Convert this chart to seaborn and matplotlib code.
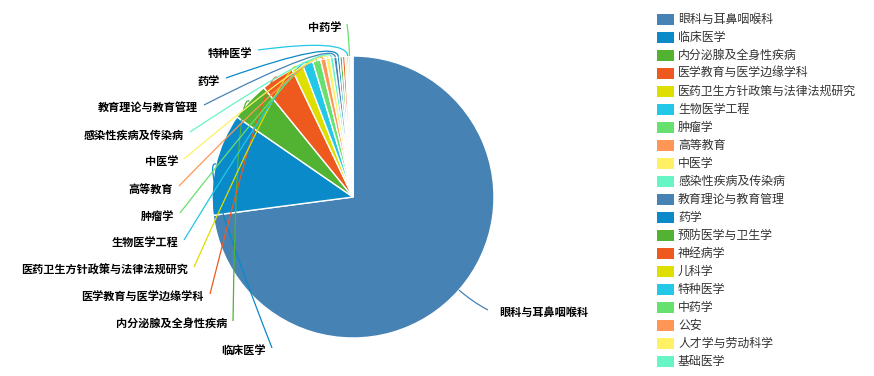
import numpy as np
import matplotlib
matplotlib.use("Agg")
import matplotlib.pyplot as plt
from matplotlib.path import Path
from matplotlib.patches import PathPatch, Rectangle
import seaborn as sns

# ---- data -------------------------------------------------------------
categories = [
    "眼科与耳鼻咽喉科", "临床医学", "内分泌腺及全身性疾病", "医学教育与医学边缘学科",
    "医药卫生方针政策与法律法规研究", "生物医学工程", "肿瘤学", "高等教育", "中医学",
    "感染性疾病及传染病", "教育理论与教育管理", "药学", "预防医学与卫生学", "神经病学",
    "儿科学", "特种医学", "中药学", "公安", "人才学与劳动科学", "基础医学",
]
values = [730, 117, 45, 38, 13, 12, 9, 6, 5, 4, 4, 3, 3, 3, 2, 2, 2, 1, 1, 1]

base_colors = ["#4682b4", "#0a8ac8", "#52b232", "#ee5a1e", "#dede00",
               "#22c8e5", "#66e06e", "#ff9655", "#fff064", "#66f5c5"]

# label anchor (pixel coords, y down): x of text edge, y of text centre, alignment
label_layout = {
    "眼科与耳鼻咽喉科": (499, 312, "left"),
    "临床医学": (266, 351, "right"),
    "内分泌腺及全身性疾病": (227, 324, "right"),
    "医学教育与医学边缘学科": (204, 297, "right"),
    "医药卫生方针政策与法律法规研究": (188, 270, "right"),
    "生物医学工程": (178, 243, "right"),
    "肿瘤学": (174, 216, "right"),
    "高等教育": (173, 189, "right"),
    "中医学": (178, 162, "right"),
    "感染性疾病及传染病": (184, 135, "right"),
    "教育理论与教育管理": (198, 108, "right"),
    "药学": (220, 81, "right"),
    "特种医学": (252, 53, "right"),
    "中药学": (341, 27, "right"),
}

# ---- figure -----------------------------------------------------------
sns.set_theme(style="white")
plt.rcParams["font.family"] = ["Noto Sans CJK SC", "DejaVu Sans"]

W, H = 874, 376
fig = plt.figure(figsize=(W / 100, H / 100), dpi=100)
ax = fig.add_axes([0, 0, 1, 1])

def py(y):
    return H - y

cx, cy, R = 353, 197, 141
colors = sns.color_palette(base_colors, n_colors=len(values))

ax.pie(values, colors=colors, startangle=90, counterclock=False,
       center=(cx, py(cy)), radius=R,
       wedgeprops=dict(edgecolor="white", linewidth=1.0))

ax.set_xlim(0, W)
ax.set_ylim(0, H)
ax.set_aspect("auto")
ax.axis("off")

# ---- labels with smooth leader lines -----------------------------------
total = float(sum(values))
cum = 0.0
for name, v, col in zip(categories, values, colors):
    mid = (cum + v / 2) / total * 2 * np.pi   # clockwise from 12 o'clock
    cum += v
    if name not in label_layout:
        continue
    lx, ly, ha = label_layout[name]
    sx, sy = cx + R * np.sin(mid), cy - R * np.cos(mid)
    ex, ey = cx + (R + 18) * np.sin(mid), cy - (R + 18) * np.cos(mid)
    if ha == "right":
        tx, ty = lx + 6, ly - 3
    else:
        tx, ty = lx - 11, ly - 2
    path = Path([(sx, py(sy)), (ex, py(ey)), (tx, py(ty))],
                [Path.MOVETO, Path.CURVE3, Path.CURVE3])
    ax.add_patch(PathPatch(path, facecolor="none", edgecolor=col, lw=0.9))
    ax.text(lx, py(ly), name, ha=ha, va="center", fontsize=8.0,
            fontweight="bold", color="#000000")

# ---- legend -------------------------------------------------------------
for i, (name, col) in enumerate(zip(categories, colors)):
    yc = 19 + 18 * i
    ax.add_patch(Rectangle((657, py(yc + 5.5)), 16.5, 11, facecolor=col,
                           edgecolor="none"))
    ax.text(678, py(yc), name, ha="left", va="center", fontsize=8.6,
            color="#333333")

fig.savefig("out.png", dpi=100)
